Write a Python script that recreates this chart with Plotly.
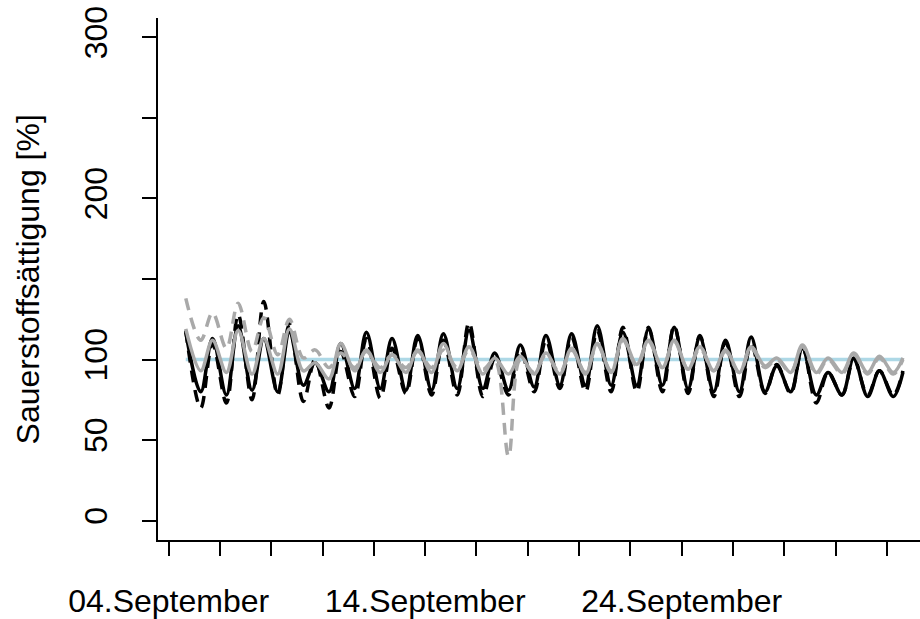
import pandas as pd
import plotly.graph_objects as go

# ---- data ----
start_time = "2013-09-04 16:00"
end_time = "2013-10-02 15:00"
day_dates = pd.date_range("2013-09-05", "2013-10-02", freq="D")  # 28 days
trough_clock = "06:00"   # daily minimum (early morning)
peak_clock = "17:00"     # daily maximum (afternoon)

# black solid
bs_start = 117
bs_trough = [80, 78, 81, 80, 84, 80, 82, 82, 81, 81, 82, 82, 81, 83, 84,
             84, 84, 84, 84, 82, 80, 80, 80, 80, 78, 78, 77, 77]
bs_peak = [113, 121, 113, 117, 98, 110, 117, 113, 115, 116, 118, 104, 109, 115, 116,
           121, 117, 119, 120, 114, 112, 114, 96, 107, 92, 101, 93, 92]

# black dashed
bd_start = 118
bd_trough = [70, 73, 75, 78, 74, 70, 77, 76, 79, 78, 78, 77, 78, 80, 82,
             80, 80, 80, 80, 79, 77, 77, 79, 79, 73, 78, 78, 78]
bd_peak = [110, 128, 136, 122, 100, 105, 113, 107, 113, 112, 123, 100, 106, 112, 114,
           118, 120, 120, 121, 115, 111, 110, 97, 108, 92, 100, 93, 93]

# grey solid
gs_start = 119
gs_trough = [93, 92, 91, 91, 93, 88, 93, 92, 92, 92, 93, 91, 91, 91, 91,
             91, 92, 97, 95, 94, 93, 92, 96, 92, 92, 92, 92, 92]
gs_peak = [112, 118, 113, 119, 98, 110, 106, 103, 106, 110, 108, 101, 102, 104, 107,
           110, 113, 112, 112, 108, 106, 108, 101, 109, 101, 104, 102, 101]

# grey dashed
gd_start = 138
gd_trough = [112, 107, 105, 103, 101, 95, 95, 95, 95, 95, 95, 94, 40, 92, 92,
             92, 93, 96, 95, 94, 93, 92, 95, 92, 91, 91, 91, 91]
gd_peak = [129, 135, 126, 125, 106, 104, 105, 103, 105, 106, 106, 100, 100, 103, 106,
           109, 112, 111, 111, 107, 105, 107, 100, 108, 100, 103, 101, 100]

saturation_ref = [100, 100]

tick_dates = ["2013-09-04", "2013-09-06", "2013-09-08", "2013-09-10", "2013-09-12",
              "2013-09-14", "2013-09-16", "2013-09-18", "2013-09-20", "2013-09-22",
              "2013-09-24", "2013-09-26", "2013-09-28", "2013-09-30", "2013-10-02"]
tick_text = ["04.September", "", "", "", "", "14.September", "", "", "", "",
             "24.September", "", "", "", ""]
y_tickvals = [0, 50, 100, 150, 200, 250, 300]
y_ticktext = ["0", "50", "100", "", "200", "", "300"]
y_title = "Sauerstoffsättigung [%]"

# ---- build time axis: start, then trough/peak per day ----
times = [pd.Timestamp(start_time)]
for i, d in enumerate(day_dates):
    times.append(pd.Timestamp(f"{d.date()} {trough_clock}"))
    if i == len(day_dates) - 1:
        times.append(pd.Timestamp(end_time))
    else:
        times.append(pd.Timestamp(f"{d.date()} {peak_clock}"))


def build(start, troughs, peaks):
    vals = [start]
    for t, p in zip(troughs, peaks):
        vals += [t, p]
    return vals


FONT = "Liberation Sans, Arial, Helvetica, sans-serif"
FS = 32
fig = go.Figure()
fig.add_trace(go.Scatter(x=[times[0], times[-1]], y=saturation_ref, mode="lines",
                         line=dict(color="#ADD8E6", width=3.5), hoverinfo="skip"))
series = [
    (build(bs_start, bs_trough, bs_peak), "#000000", "solid"),
    (build(bd_start, bd_trough, bd_peak), "#000000", "12px,8px"),
    (build(gs_start, gs_trough, gs_peak), "#A9A9A9", "solid"),
    (build(gd_start, gd_trough, gd_peak), "#A9A9A9", "12px,8px"),
]
for vals, col, dash in series:
    fig.add_trace(go.Scatter(x=times, y=vals, mode="lines",
                             line=dict(color=col, width=3.5, dash=dash, shape="spline",
                                       smoothing=1.0)))

fig.update_layout(
    width=920, height=619,
    margin=dict(l=158, r=0, t=18, b=79),
    paper_bgcolor="white", plot_bgcolor="white",
    showlegend=False,
    font=dict(family=FONT, size=FS, color="black"),
    xaxis=dict(type="date", range=["2013-09-03 14:00", "2013-10-03 07:00"],
               tickvals=tick_dates, ticktext=tick_text, tickangle=0,
               automargin=False,
               showgrid=False, zeroline=False, showline=True, linecolor="black",
               linewidth=2, ticks="outside", ticklen=14, tickwidth=2,
               tickcolor="black", ticklabelstandoff=18,
               tickfont=dict(family=FONT, size=FS, color="black")),
    yaxis=dict(range=[-12, 312], tickvals=y_tickvals, ticktext=y_ticktext,
               tickangle=-90, automargin=False, showgrid=False, zeroline=False,
               showline=True, linecolor="black", linewidth=2, ticks="outside",
               ticklen=14, tickwidth=2, tickcolor="black", ticklabelstandoff=22,
               tickfont=dict(family=FONT, size=FS, color="black")),
    annotations=[dict(text=y_title, xref="paper", yref="paper", x=-0.17, y=0.5,
                      xanchor="center", yanchor="middle", textangle=-90,
                      showarrow=False, font=dict(family=FONT, size=FS, color="black"))],
)
fig.write_html("out.html", config={"displayModeBar": False},
               post_script="document.body.style.margin='0';document.body.style.overflow='hidden';")
